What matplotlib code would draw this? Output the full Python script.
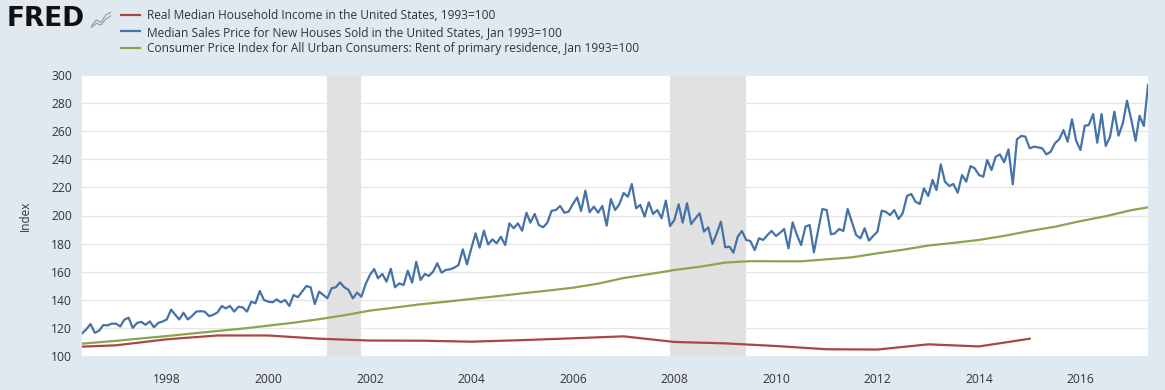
import numpy as np
import pandas as pd
import matplotlib
matplotlib.use("Agg")
import matplotlib.pyplot as plt

# ---------------- data ----------------
# Median Sales Price for New Houses Sold (monthly, from May 1996), Jan 1993=100
house_start = "1996-05-01"
house_values = [
    116.0, 119.0, 122.8, 116.5, 118.0, 122.0, 121.8, 123.0, 123.0, 121.0, 125.8, 127.3,
    120.0, 123.5, 124.3, 122.2, 124.6, 120.5, 123.6, 124.5, 126.0, 133.0, 129.6, 126.0,
    130.8, 126.0, 128.4, 131.6, 131.9, 131.6, 128.4, 129.3, 131.0, 135.6, 133.9, 135.6,
    131.6, 135.1, 134.6, 131.6, 138.7, 137.5, 146.3, 139.9, 138.7, 138.2, 140.3, 138.2,
    139.9, 135.6, 143.4, 141.8, 145.8, 149.8, 148.9, 137.0, 145.8, 143.4, 141.1, 148.2,
    148.9, 152.4, 148.9, 147.0, 141.0, 145.1, 142.2, 151.0, 157.6, 161.9, 155.3, 158.4,
    152.9, 162.1, 148.9, 151.7, 150.5, 160.7, 152.2, 167.1, 154.1, 158.4, 156.9, 160.0,
    166.0, 159.3, 161.2, 161.7, 162.9, 164.8, 175.9, 165.2, 176.6, 187.3, 177.1, 189.2,
    179.3, 183.0, 180.2, 184.9, 179.0, 194.4, 190.9, 194.4, 189.2, 202.0, 194.9, 201.1,
    193.2, 191.6, 194.9, 203.4, 203.9, 206.8, 202.0, 202.7, 208.2, 212.9, 203.2, 217.7,
    202.3, 206.3, 202.0, 206.8, 192.8, 211.7, 203.9, 208.0, 216.0, 213.4, 222.4, 205.1,
    207.5, 199.2, 209.4, 201.1, 203.9, 198.0, 210.6, 192.5, 196.8, 208.0, 194.9, 208.7,
    193.9, 198.0, 201.6, 188.5, 191.6, 179.7, 187.3, 195.6, 177.4, 177.8, 173.5, 184.9,
    189.0, 182.6, 181.8, 175.4, 183.8, 182.6, 186.1, 189.0, 185.4, 187.8, 190.4, 176.6,
    195.1, 186.1, 179.0, 192.0, 193.2, 173.8, 189.7, 204.6, 203.9, 186.6, 187.3, 190.4,
    189.0, 204.6, 195.6, 186.1, 183.8, 190.9, 182.1, 185.4, 188.5, 203.4, 202.7, 200.3,
    203.9, 197.5, 201.6, 213.9, 215.3, 209.8, 208.2, 219.3, 213.9, 225.3, 218.1, 236.4,
    224.1, 221.0, 222.4, 216.2, 228.8, 224.1, 235.2, 233.6, 228.8, 227.6, 239.5, 232.4,
    241.8, 243.5, 237.9, 247.1, 222.2, 254.2, 256.7, 256.1, 247.8, 249.0, 248.5, 247.8,
    243.5, 245.4, 251.4, 254.2, 260.8, 252.5, 268.5, 253.2, 246.6, 263.9, 264.4, 272.2,
    251.8, 272.2, 249.5, 256.1, 273.9, 256.8, 265.6, 281.7, 268.0, 253.2, 271.0, 263.7,
    292.9,
]

# CPI: Rent of primary residence, Jan 1993=100 (read roughly every six months)
rent_dates = [
    "1996-05-01", "1997-01-01", "1997-07-01", "1998-01-01", "1998-07-01", "1999-01-01",
    "1999-07-01", "2000-01-01", "2000-07-01", "2001-01-01", "2001-07-01", "2002-01-01",
    "2002-07-01", "2003-01-01", "2003-07-01", "2004-01-01", "2004-07-01", "2005-01-01",
    "2005-07-01", "2006-01-01", "2006-07-01", "2007-01-01", "2007-07-01", "2008-01-01",
    "2008-07-01", "2009-01-01", "2009-07-01", "2010-01-01", "2010-07-01", "2011-01-01",
    "2011-07-01", "2012-01-01", "2012-07-01", "2013-01-01", "2013-07-01", "2014-01-01",
    "2014-07-01", "2015-01-01", "2015-07-01", "2016-01-01", "2016-07-01", "2017-01-01",
    "2017-05-01",
]
rent_values = [
    108.8, 110.8, 112.5, 114.2, 116.0, 117.8,
    119.5, 121.6, 123.7, 126.2, 129.0, 132.3,
    134.5, 136.8, 138.6, 140.6, 142.5, 144.6,
    146.5, 148.6, 151.5, 155.5, 158.2, 161.2,
    163.5, 166.5, 167.5, 167.4, 167.4, 168.8,
    170.2, 173.1, 175.6, 178.6, 180.5, 182.6,
    185.5, 189.0, 192.0, 196.0, 199.5, 203.8,
    205.8,
]

# Real Median Household Income (annual), 1993=100
income_years = list(range(1996, 2016))
income_values = [
    106.2, 107.6, 111.9, 114.6, 114.6, 112.3, 111.0, 110.9, 110.2, 111.3,
    112.6, 114.0, 110.0, 109.0, 107.1, 104.8, 104.6, 108.3, 106.8, 112.3,
]

recessions = [("2001-03-01", "2001-11-01"), ("2007-12-01", "2009-06-01")]

labels = [
    "Real Median Household Income in the United States, 1993=100",
    "Median Sales Price for New Houses Sold in the United States, Jan 1993=100",
    "Consumer Price Index for All Urban Consumers: Rent of primary residence, Jan 1993=100",
]
colors = ["#aa4643", "#4572a7", "#89a54e"]
y_ticks = list(range(100, 301, 20))
x_tick_years = list(range(1998, 2017, 2))

# ---------------- plot ----------------
plt.rcParams["font.family"] = ["Open Sans", "DejaVu Sans"]
BG = "#e1e9f0"
fig = plt.figure(figsize=(11.65, 3.9), dpi=100, facecolor=BG)
ax = fig.add_axes([82 / 1165, 34 / 390, (1148 - 82) / 1165, (356 - 75) / 390])
ax.set_facecolor("white")

house_dates = pd.date_range(house_start, periods=len(house_values), freq="MS")
income_dates = pd.to_datetime([f"{y}-01-01" for y in income_years])
rent_dt = pd.to_datetime(rent_dates)

for s, e in recessions:
    ax.axvspan(pd.Timestamp(s), pd.Timestamp(e), color="#e1e1e1", lw=0, zorder=0)

l1, = ax.plot(income_dates, income_values, color=colors[0], lw=1.6, zorder=3)
l2, = ax.plot(house_dates, house_values, color=colors[1], lw=1.6, zorder=3)
l3, = ax.plot(rent_dt, rent_values, color=colors[2], lw=1.6, zorder=3)

ax.set_xlim(house_dates[0], house_dates[-1])
ax.set_ylim(100, 300)
ax.set_yticks(y_ticks)
ax.set_xticks(pd.to_datetime([f"{y}-01-01" for y in x_tick_years]))
ax.set_xticklabels([str(y) for y in x_tick_years])
ax.grid(axis="y", color="#e6e6e6", lw=1, zorder=1)
ax.set_axisbelow(True)
for sp in ax.spines.values():
    sp.set_visible(False)
ax.tick_params(axis="both", length=0, labelsize=8.7, colors="#333333")
ax.tick_params(axis="x", pad=12)
ax.tick_params(axis="y", pad=7)
ax.set_ylabel("Index", fontsize=8.5, color="#333333", labelpad=14)

fig.legend([l1, l2, l3], labels, loc="upper left",
           bbox_to_anchor=(121 / 1165, 1 - 9 / 390), frameon=False,
           fontsize=8.6, handlelength=1.6, handletextpad=0.55,
           labelspacing=0.3, borderpad=0, borderaxespad=0,
           labelcolor="#333333")

# FRED logo
fig.text(7 / 1165, 1 - 19 / 390, "FRED", fontsize=19, fontweight="bold",
         color="#111111", va="center", ha="left", family=["DejaVu Sans"])
icon = fig.add_axes([90 / 1165, 1 - 30 / 390, 22 / 1165, 20 / 390])
icon.set_facecolor("#dde3ea")
icon.plot([0, 1, 2, 3, 4], [0.3, 1.0, 0.7, 1.6, 1.9], color="#7a9cc0", lw=0.8)
icon.plot([0, 1, 2, 3, 4], [0.1, 0.6, 0.4, 1.1, 1.5], color="#999999", lw=0.8)
icon.set_xlim(-0.3, 4.3)
icon.set_ylim(-0.2, 2.2)
icon.axis("off")

fig.savefig("out.png", dpi=100, facecolor=BG)
